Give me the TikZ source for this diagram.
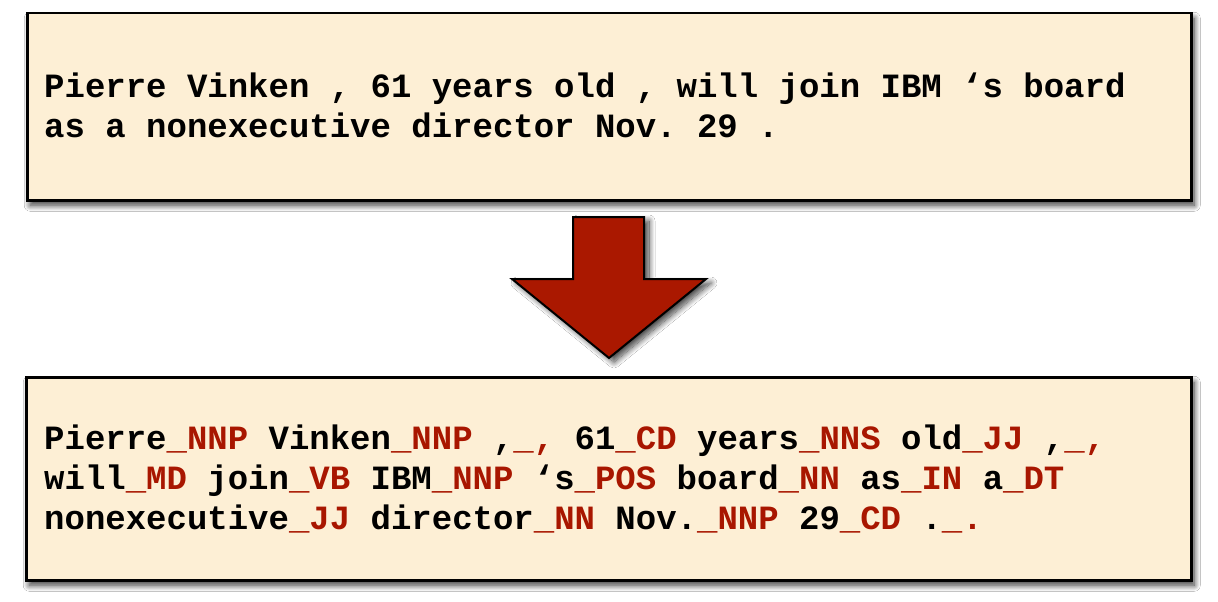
\documentclass[tikz,border=0pt]{standalone}
\usepackage{fontspec}
\usetikzlibrary{shadows.blur}
\newfontfamily\monofnt{Liberation Mono}
\definecolor{boxcream}{RGB}{253,239,213}
\definecolor{tagred}{RGB}{168,22,0}
\definecolor{arrowred}{RGB}{170,24,0}
\newcommand{\postag}[1]{\textcolor{tagred}{\_#1}}
\tikzset{
  panel/.style={draw=black, line width=2.5pt, fill=boxcream, inner sep=0pt,
    blur shadow={shadow xshift=3pt, shadow yshift=-5pt, shadow blur radius=6pt, shadow blur steps=14, shadow opacity=80}},
  txt/.style={anchor=base west, inner sep=0pt, font=\monofnt\bfseries\fontsize{34}{40}\selectfont\frenchspacing},
  bigarrow/.style={draw=black, line width=2pt, fill=arrowred, line join=miter,
    blur shadow={shadow xshift=5pt, shadow yshift=-4pt, shadow blur radius=6pt, shadow blur steps=14, shadow opacity=75}}
}
\begin{document}
\begin{tikzpicture}[x=1pt, y=-1pt]
\useasboundingbox (0,0) rectangle (1218,602);
\fill[white] (0,0) rectangle (1218,602);
% top box
\node[panel, anchor=north west, minimum width=1164pt, minimum height=187pt] (topbox) at (26,12) {};
\node[txt] (t1) at (44,97) {Pierre Vinken , 61 years old , will join IBM ‘s board};
\node[txt] (t2) at (44,137) {as a nonexecutive director Nov. 29 .};
% arrow
\coordinate (a1) at (573,217);
\coordinate (a2) at (644,217);
\coordinate (a3) at (644,279);
\coordinate (a4) at (706,279);
\coordinate (a5) at (609,358);
\coordinate (a6) at (512,279);
\coordinate (a7) at (573,279);
\draw[bigarrow] (a1) -- (a2) -- (a3) -- (a4) -- (a5) -- (a6) -- (a7) -- cycle;
% bottom box
\node[panel, anchor=north west, minimum width=1165pt, minimum height=203pt] (botbox) at (25,376) {};
\node[txt] (b1) at (44,449) {Pierre\postag{NNP} Vinken\postag{NNP} ,\postag{,} 61\postag{CD} years\postag{NNS} old\postag{JJ} ,\postag{,}};
\node[txt] (b2) at (44,489) {will\postag{MD} join\postag{VB} IBM\postag{NNP} ‘s\postag{POS} board\postag{NN} as\postag{IN} a\postag{DT}};
\node[txt] (b3) at (44,529) {nonexecutive\postag{JJ} director\postag{NN} Nov.\postag{NNP} 29\postag{CD} .\postag{.}};
\end{tikzpicture}
\end{document}
